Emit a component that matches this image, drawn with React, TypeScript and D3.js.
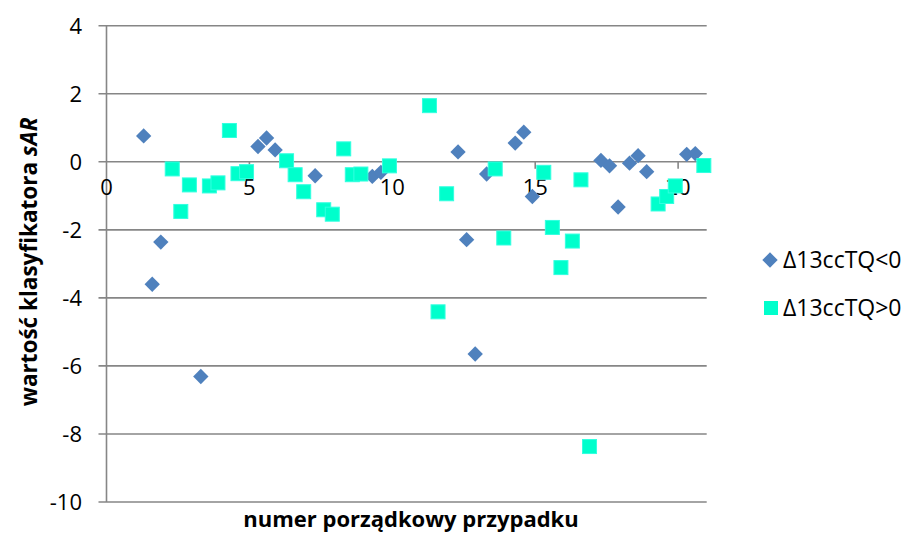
import React, { useEffect, useRef } from 'react';
import * as d3 from 'd3';

// Δ13ccTQ<0 (blue diamonds)
const negX = [1.3, 1.6, 1.9, 3.3, 5.3, 5.6, 5.9, 7.3, 9.3, 9.6, 12.3, 12.6, 12.9, 13.3, 14.3, 14.6, 14.9, 17.3, 17.6, 17.9, 18.3, 18.6, 18.9, 20.3, 20.6];
const negY = [0.76, -3.6, -2.36, -6.31, 0.45, 0.7, 0.35, -0.41, -0.43, -0.31, 0.29, -2.29, -5.65, -0.36, 0.55, 0.87, -1.02, 0.04, -0.12, -1.33, -0.04, 0.18, -0.29, 0.22, 0.24];

// Δ13ccTQ>0 (cyan squares)
const posX = [2.3, 2.6, 2.9, 3.6, 3.9, 4.3, 4.6, 4.9, 6.3, 6.6, 6.9, 7.6, 7.9, 8.3, 8.6, 8.9, 9.9, 11.3, 11.6, 11.9, 13.6, 13.9, 15.3, 15.6, 15.9, 16.3, 16.6, 16.9, 19.3, 19.6, 19.9, 20.9];
const posY = [-0.21, -1.46, -0.68, -0.71, -0.62, 0.92, -0.35, -0.29, 0.03, -0.38, -0.88, -1.41, -1.54, 0.38, -0.38, -0.36, -0.12, 1.65, -4.41, -0.94, -0.21, -2.24, -0.31, -1.93, -3.11, -2.33, -0.53, -8.37, -1.24, -1.02, -0.71, -0.11];

const xTicks = [0, 5, 10, 15, 20];
const yTicks = [4, 2, 0, -2, -4, -6, -8, -10];

const seriesNames = ['Δ13ccTQ<0', 'Δ13ccTQ>0'];
const seriesColors = ['#4F81BD', '#00FFCC'];

const W = 907;
const H = 535;
const FONT = "'Open Sans', 'Liberation Sans', sans-serif";

export default function App() {
  const svgRef = useRef<SVGSVGElement>(null);

  useEffect(() => {
    if (!svgRef.current) return;
    const svg = d3.select(svgRef.current);
    svg.selectAll('*').remove();

    const left = 106.5, right = 706.7, top = 25.7, bottom = 502;
    const x = d3.scaleLinear().domain([0, 21]).range([left, right]);
    const y = d3.scaleLinear().domain([-10, 4]).range([bottom, top]);
    const grid = '#868686';

    // horizontal gridlines (with left ticks)
    svg.append('g')
      .selectAll('line')
      .data(yTicks)
      .enter().append('line')
      .attr('x1', left - 8)
      .attr('x2', right)
      .attr('y1', d => y(d))
      .attr('y2', d => y(d))
      .attr('stroke', grid)
      .attr('stroke-width', 1.6);

    // y axis line
    svg.append('line')
      .attr('x1', left).attr('x2', left)
      .attr('y1', top).attr('y2', bottom)
      .attr('stroke', grid).attr('stroke-width', 1.6);

    // x axis ticks (below zero line)
    svg.append('g')
      .selectAll('line')
      .data(xTicks.slice(1))
      .enter().append('line')
      .attr('x1', d => x(d)).attr('x2', d => x(d))
      .attr('y1', y(0)).attr('y2', y(0) + 7)
      .attr('stroke', grid).attr('stroke-width', 1.6);

    // y tick labels
    svg.append('g')
      .selectAll('text')
      .data(yTicks)
      .enter().append('text')
      .attr('x', 82)
      .attr('y', d => y(d))
      .attr('dy', '0.36em')
      .attr('text-anchor', 'end')
      .style('font-family', FONT)
      .style('font-size', '22px')
      .style('fill', '#000')
      .text(d => d);

    // x tick labels
    svg.append('g')
      .selectAll('text')
      .data(xTicks)
      .enter().append('text')
      .attr('x', d => x(d))
      .attr('y', y(0) + 25)
      .attr('dy', '0.36em')
      .attr('text-anchor', 'middle')
      .style('font-family', FONT)
      .style('font-size', '22px')
      .style('fill', '#000')
      .text(d => d);

    const diamond = d3.symbol().type(d3.symbolDiamond2).size(150);

    // series 1: diamonds
    svg.append('g')
      .selectAll('path')
      .data(negX.map((v, i) => [v, negY[i]]))
      .enter().append('path')
      .attr('d', diamond as any)
      .attr('transform', d => `translate(${x(d[0])},${y(d[1])})`)
      .attr('fill', seriesColors[0]);

    // series 2: squares
    const sq = 14;
    svg.append('g')
      .selectAll('rect')
      .data(posX.map((v, i) => [v, posY[i]]))
      .enter().append('rect')
      .attr('x', d => x(d[0]) - sq / 2)
      .attr('y', d => y(d[1]) - sq / 2)
      .attr('width', sq)
      .attr('height', sq)
      .attr('fill', seriesColors[1])
      .attr('stroke', '#33FFE0')
      .attr('stroke-width', 1);

    // axis titles
    svg.append('text')
      .attr('x', 411)
      .attr('y', 527)
      .attr('text-anchor', 'middle')
      .style('font-family', FONT)
      .style('font-size', '22px')
      .style('font-weight', 'bold')
      .text('numer porządkowy przypadku');

    const yt = svg.append('text')
      .attr('transform', 'translate(37,262) rotate(-90)')
      .attr('text-anchor', 'middle')
      .style('font-family', FONT)
      .style('font-size', '22.5px')
      .style('font-weight', 'bold');
    yt.append('tspan').text('wartość klasyfikatora ');
    yt.append('tspan').style('font-style', 'italic').text('sAR');

    // legend
    const leg = svg.append('g');
    seriesNames.forEach((name, i) => {
      const ly = 260 + i * 48;
      if (i === 0) {
        leg.append('path')
          .attr('d', diamond as any)
          .attr('transform', `translate(770,${ly})`)
          .attr('fill', seriesColors[0]);
      } else {
        leg.append('rect')
          .attr('x', 771 - sq / 2).attr('y', ly - sq / 2)
          .attr('width', sq).attr('height', sq)
          .attr('fill', seriesColors[1]);
      }
      leg.append('text')
        .attr('x', 783)
        .attr('y', ly)
        .attr('dy', '0.36em')
        .style('font-family', FONT)
        .style('font-size', '23px')
        .style('fill', '#000')
        .text(name);
    });
  }, []);

  return (
    <svg
      ref={svgRef}
      width={W}
      height={H}
      style={{ position: 'absolute', left: 0, top: 0, background: '#fff' }}
    />
  );
}
